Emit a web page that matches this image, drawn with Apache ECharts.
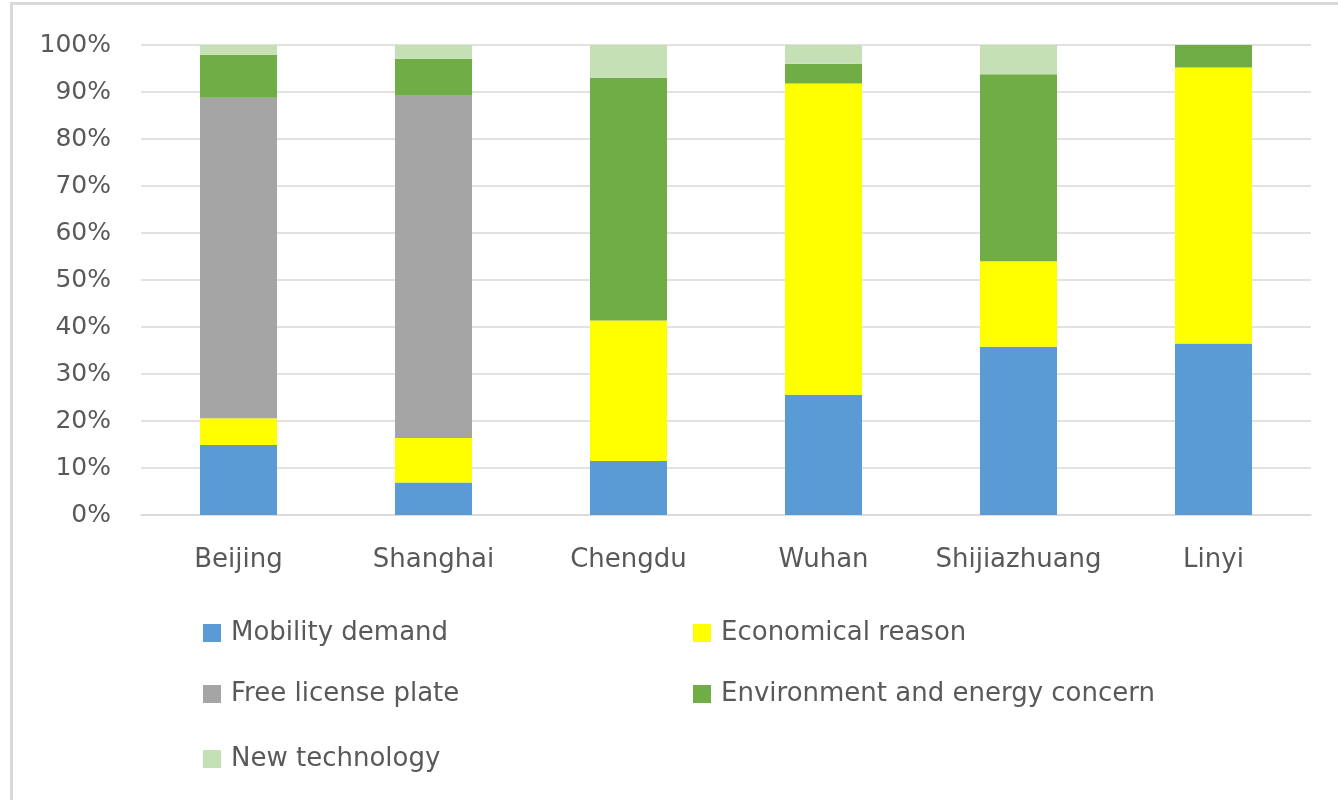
<!DOCTYPE html>
<html>
<head>
<meta charset="utf-8">
<script src="https://cdn.jsdelivr.net/npm/echarts@6/dist/echarts.min.js"></script>
<style>
  html, body { margin: 0; padding: 0; background: #ffffff; }
  #chart { width: 1338px; height: 800px; }
</style>
</head>
<body>
<div id="chart"></div>
<script>
// Cities surveyed
const cities = ['Beijing', 'Shanghai', 'Chengdu', 'Wuhan', 'Shijiazhuang', 'Linyi'];

// Share of respondents (%) per purchase motive, one value per city
const mobilityDemand = [14.9, 6.9, 11.5, 25.6, 35.8, 36.5];
const economicalReason = [5.7, 9.5, 29.9, 66.2, 18.2, 58.7];
const freeLicensePlate = [68.2, 72.8, 0, 0, 0, 0];
const environmentConcern = [9.1, 7.9, 51.6, 4.2, 39.8, 4.8];
const newTechnology = [2.1, 2.9, 7.0, 4.0, 6.2, 0];

const seriesNames = [
  'Mobility demand',
  'Economical reason',
  'Free license plate',
  'Environment and energy concern',
  'New technology'
];
const seriesData = [mobilityDemand, economicalReason, freeLicensePlate, environmentConcern, newTechnology];
const seriesColors = ['#5B9BD5', '#FFFF00', '#A5A5A5', '#70AD47', '#C5E0B4'];

const FONT = '"DejaVu Sans", "Open Sans", sans-serif';
const TEXT_COLOR = '#595959';

// Legend laid out in two columns, three rows
const legendSlots = [
  { name: 'Mobility demand', left: 203, top: 620 },
  { name: 'Economical reason', left: 693, top: 620 },
  { name: 'Free license plate', left: 203, top: 681 },
  { name: 'Environment and energy concern', left: 693, top: 681 },
  { name: 'New technology', left: 203, top: 746 }
];

const chart = echarts.init(document.getElementById('chart'), null, { renderer: 'canvas' });

chart.setOption({
  backgroundColor: '#ffffff',
  animation: false,
  color: seriesColors,
  textStyle: { fontFamily: FONT },
  graphic: [{
    type: 'rect',
    shape: { x: 11.5, y: 3.5, width: 1400, height: 900 },
    style: { fill: 'none', stroke: '#d9d9d9', lineWidth: 3 },
    silent: true
  }],
  legend: legendSlots.map(s => ({
    data: [s.name],
    left: s.left,
    top: s.top,
    padding: 0,
    icon: 'rect',
    itemWidth: 18,
    itemHeight: 18,
    selectedMode: false,
    textStyle: {
      color: TEXT_COLOR,
      fontSize: 26,
      fontFamily: FONT,
      padding: [0, 0, 0, 5]
    }
  })),
  grid: {
    left: 141,
    right: 27,
    top: 45,
    bottom: 285,
    containLabel: false
  },
  xAxis: {
    type: 'category',
    data: cities,
    axisTick: { show: false },
    axisLine: { show: true, lineStyle: { color: '#d9d9d9', width: 1.5 } },
    axisLabel: {
      interval: 0,
      color: TEXT_COLOR,
      fontSize: 26,
      fontFamily: FONT,
      margin: 32
    }
  },
  yAxis: {
    type: 'value',
    min: 0,
    max: 100,
    interval: 10,
    axisLine: { show: false },
    axisTick: { show: false },
    splitLine: { lineStyle: { color: '#d9d9d9', width: 1.5 } },
    axisLabel: {
      formatter: '{value}%',
      color: TEXT_COLOR,
      fontSize: 25,
      fontFamily: FONT,
      margin: 30
    }
  },
  series: seriesNames.map((name, i) => ({
    name: name,
    type: 'bar',
    stack: 'share',
    barWidth: '39.5%',
    data: seriesData[i],
    itemStyle: { color: seriesColors[i] }
  }))
});
</script>
</body>
</html>
